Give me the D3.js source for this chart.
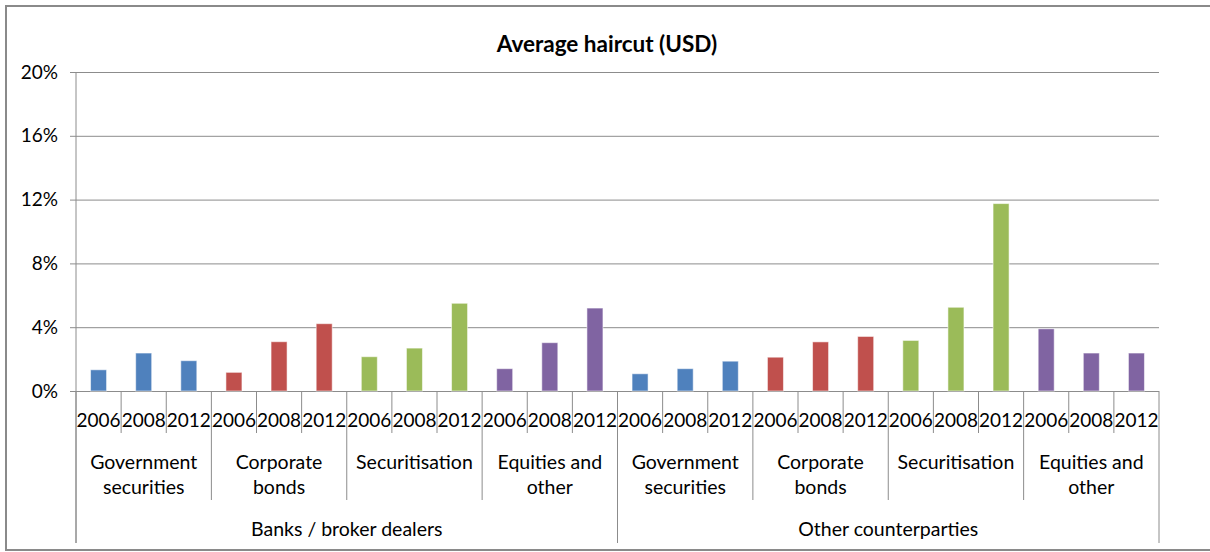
<!DOCTYPE html>
<meta charset="utf-8">
<style>
body { margin: 0; background: #fff; }
text { font-family: Lato, "Open Sans", sans-serif; fill: #000; }
.tick text { font-size: 19px; }
.yearLabel { font-size: 19px; }
.assetLabel { font-size: 19.5px; }
.groupLabel { font-size: 19.5px; }
.title { font-size: 22.5px; font-weight: bold; }
</style>
<body>
<script src="https://d3js.org/d3.v7.min.js"></script>
<script>

const groups = ["Banks / broker dealers", "Other counterparties"];
const assets = [["Government", "securities"], ["Corporate", "bonds"], ["Securitisation"], ["Equities and", "other"]];
const years = ["2006", "2008", "2012"];
const assetColors = ["#4F81BD", "#C0504D", "#9BBB59", "#8064A2"];

// haircut per asset class and year, in percent
const banksValues = [1.33, 2.38, 1.9, 1.17, 3.09, 4.22, 2.15, 2.69, 5.5, 1.4, 3.03, 5.2];
const otherValues = [1.08, 1.4, 1.87, 2.12, 3.08, 3.42, 3.17, 5.25, 11.75, 3.9, 2.38, 2.38];
const yTicks = [0, 4, 8, 12, 16, 20];

let width = 1210,
    height = 552,
    plotLeft = 76,
    plotRight = 1159,
    plotTop = 72,
    plotBottom = 391;

let rows = [];
[banksValues, otherValues].forEach((vals, g) => {
    vals.forEach((v, i) => {
        rows.push({group: g, asset: Math.floor(i / 3), year: years[i % 3], value: v, idx: rows.length});
    });
});

let svg = d3.select("body").append("svg")
            .attr("width", width)
            .attr("height", height);

// outer frame
svg.append("rect")
    .attr("x", 6).attr("y", 6)
    .attr("width", width + 10).attr("height", 544)
    .attr("fill", "none")
    .attr("stroke", "#8a8a8a")
    .attr("stroke-width", 2);

let x = d3.scaleBand()
            .domain(rows.map(d => d.idx))
            .range([plotLeft, plotRight])
            .paddingInner(0.645)
            .paddingOuter(0.3225);
let step = x.step();

let y = d3.scaleLinear()
            .domain([0, 20])
            .range([plotBottom, plotTop]);

svg.append("text")
    .attr("class", "title")
    .attr("x", 607)
    .attr("y", 52)
    .attr("text-anchor", "middle")
    .text("Average haircut (USD)");

// y axis with gridlines
let yAxis = svg.append("g")
    .attr("transform", `translate(${plotLeft},0)`)
    .call(d3.axisLeft(y).tickValues(yTicks).tickSize(-(plotRight - plotLeft)).tickPadding(18).tickFormat(d => d + "%"));
yAxis.select(".domain").remove();
yAxis.selectAll(".tick line").attr("stroke", "#8c8c8c").attr("x1", -6);
yAxis.selectAll(".tick text").attr("fill", "#000");

svg.append("line")
    .attr("x1", plotLeft).attr("x2", plotLeft)
    .attr("y1", plotTop).attr("y2", 543)
    .attr("stroke", "#8c8c8c");

// bars
svg.append("g")
    .selectAll("rect")
    .data(rows)
    .join("rect")
        .attr("x", d => x(d.idx))
        .attr("y", d => y(d.value))
        .attr("width", x.bandwidth())
        .attr("height", d => y(0) - y(d.value))
        .attr("fill", d => assetColors[d.asset])
        .attr("stroke", "rgba(255,255,255,0.55)")
        .attr("stroke-width", 1);

// category axis: separators of three levels
let seps = d3.range(rows.length + 1).map(i => {
    let lvl = i % 12 == 0 ? 543 : i % 3 == 0 ? 500 : 433;
    return {x: plotLeft + i * step, y2: lvl};
});
svg.append("g")
    .selectAll("line")
    .data(seps)
    .join("line")
        .attr("x1", d => d.x).attr("x2", d => d.x)
        .attr("y1", plotBottom).attr("y2", d => d.y2)
        .attr("stroke", "#8c8c8c");

svg.append("g")
    .selectAll("text")
    .data(rows)
    .join("text")
        .attr("class", "yearLabel")
        .attr("x", d => x(d.idx) + x.bandwidth() / 2)
        .attr("y", 427)
        .attr("text-anchor", "middle")
        .text(d => d.year);

let assetCells = [];
groups.forEach((g, gi) => assets.forEach((a, ai) => assetCells.push({lines: a, cx: plotLeft + (gi * 12 + ai * 3 + 1.5) * step})));
let at = svg.append("g")
    .selectAll("text")
    .data(assetCells)
    .join("text")
        .attr("class", "assetLabel")
        .attr("text-anchor", "middle")
        .attr("x", d => d.cx)
        .attr("y", 469);
at.selectAll("tspan")
    .data(d => d.lines.map(l => ({l, cx: d.cx})))
    .join("tspan")
        .attr("x", d => d.cx)
        .attr("dy", (d, i) => i ? 25 : 0)
        .text(d => d.l);

svg.append("g")
    .selectAll("text")
    .data(groups)
    .join("text")
        .attr("class", "groupLabel")
        .attr("text-anchor", "middle")
        .attr("x", (d, i) => plotLeft + (i * 12 + 6) * step)
        .attr("y", 536)
        .text(d => d);

</script>
